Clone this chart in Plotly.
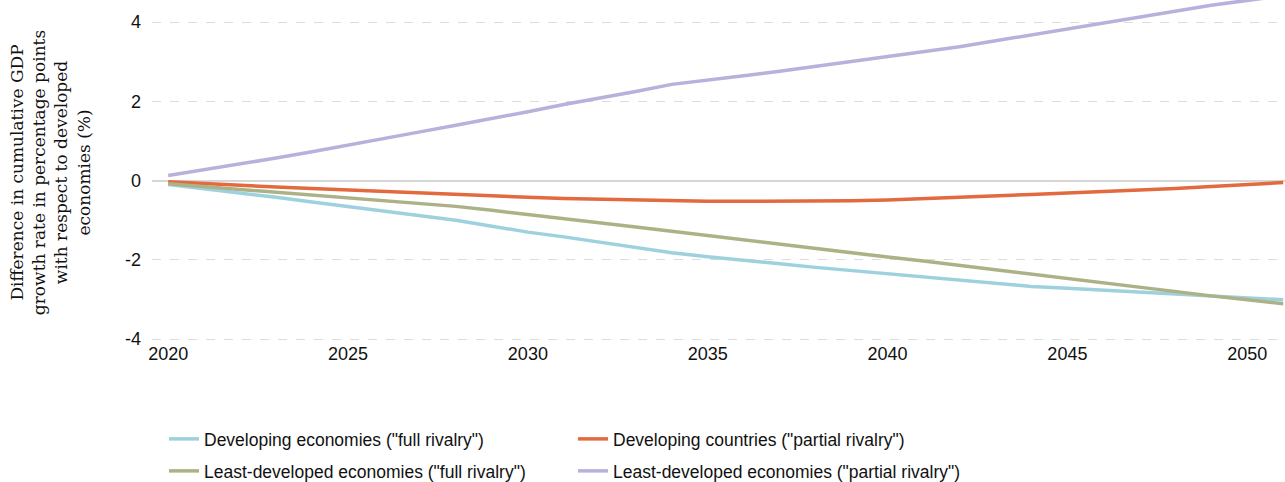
import plotly.graph_objects as go

years = list(range(2020, 2052))

dev_full = [-0.10, -0.20, -0.31, -0.42, -0.54, -0.66, -0.78, -0.88, -1.00, -1.15,
            -1.30, -1.42, -1.56, -1.69, -1.82, -1.92, -2.02, -2.10, -2.19, -2.27,
            -2.36, -2.44, -2.53, -2.61, -2.67, -2.72, -2.76, -2.81, -2.86, -2.91,
            -2.96, -3.01]
dev_partial = [-0.03, -0.08, -0.12, -0.16, -0.20, -0.24, -0.28, -0.32, -0.35, -0.38,
               -0.42, -0.45, -0.47, -0.49, -0.51, -0.52, -0.52, -0.52, -0.52, -0.51,
               -0.49, -0.46, -0.42, -0.39, -0.35, -0.31, -0.28, -0.24, -0.20, -0.15,
               -0.10, -0.05]
ldc_full = [-0.08, -0.15, -0.22, -0.29, -0.36, -0.42, -0.49, -0.56, -0.65, -0.75,
            -0.85, -0.95, -1.06, -1.17, -1.28, -1.39, -1.50, -1.61, -1.72, -1.84,
            -1.93, -2.03, -2.14, -2.26, -2.37, -2.49, -2.60, -2.71, -2.81, -2.91,
            -3.01, -3.11]
ldc_partial = [0.13, 0.27, 0.41, 0.57, 0.73, 0.89, 1.06, 1.23, 1.40, 1.56,
               1.74, 1.92, 2.08, 2.25, 2.43, 2.55, 2.65, 2.76, 2.88, 3.01,
               3.13, 3.25, 3.38, 3.53, 3.68, 3.84, 3.99, 4.14, 4.29, 4.43,
               4.55, 4.67]

names = ['Developing economies ("full rivalry")',
         'Developing countries ("partial rivalry")',
         'Least-developed economies ("full rivalry")',
         'Least-developed economies ("partial rivalry")']
series = [dev_full, dev_partial, ldc_full, ldc_partial]
colors = ["#9ed1de", "#e3693e", "#adb186", "#b9b0dc"]
legends = ["legend", "legend", "legend2", "legend2"]

x_ticks = [2020, 2025, 2030, 2035, 2040, 2045, 2050]
y_ticks = [-4, -2, 0, 2, 4]

fig = go.Figure()
for name, vals, col, lg in zip(names, series, colors, legends):
    fig.add_trace(go.Scatter(x=years, y=vals, mode="lines", name=name,
                             line=dict(color=col, width=3.5), legend=lg))

font_sans = "Liberation Sans, Arial, sans-serif"
leg_common = dict(orientation="h", xref="container", yref="container",
                  xanchor="left", yanchor="middle", x=164 / 1285,
                  font=dict(family=font_sans, size=17.5, color="#111"),
                  entrywidth=364, entrywidthmode="pixels",
                  bgcolor="rgba(0,0,0,0)", traceorder="normal")

fig.update_layout(
    width=1285, height=482,
    paper_bgcolor="white", plot_bgcolor="white",
    margin=dict(l=152, r=0, t=0, b=137),
    font=dict(family=font_sans, size=18, color="#111"),
    showlegend=True,
    legend=dict(**leg_common, y=1 - 439 / 482),
    legend2=dict(**leg_common, y=1 - 471 / 482),
    xaxis=dict(range=[2019.55, 2051.05], tickvals=x_ticks,
               ticktext=[str(v) for v in x_ticks],
               showgrid=False, zeroline=False, showline=False, ticks="",
               ticklabelstandoff=-4, tickfont=dict(size=18)),
    yaxis=dict(range=[-4.15, 4.56], tickvals=y_ticks,
               ticktext=[str(v) for v in y_ticks],
               showgrid=True, gridcolor="#dcdcdc", griddash="dash", gridwidth=1,
               zeroline=True, zerolinecolor="#d6d6d6", zerolinewidth=2,
               showline=False, ticks="", ticklabelstandoff=10,
               tickfont=dict(size=18),
               title=dict(text="Difference in cumulative GDP<br>growth rate in percentage points<br>with respect to developed<br>economies (%)",
                          font=dict(family="DejaVu Serif, serif", size=17, color="#111"),
                          standoff=30)),
)

fig.write_html("out.html", config={"displayModeBar": False},
               post_script="document.body.style.margin='0';document.body.style.padding='0';")
